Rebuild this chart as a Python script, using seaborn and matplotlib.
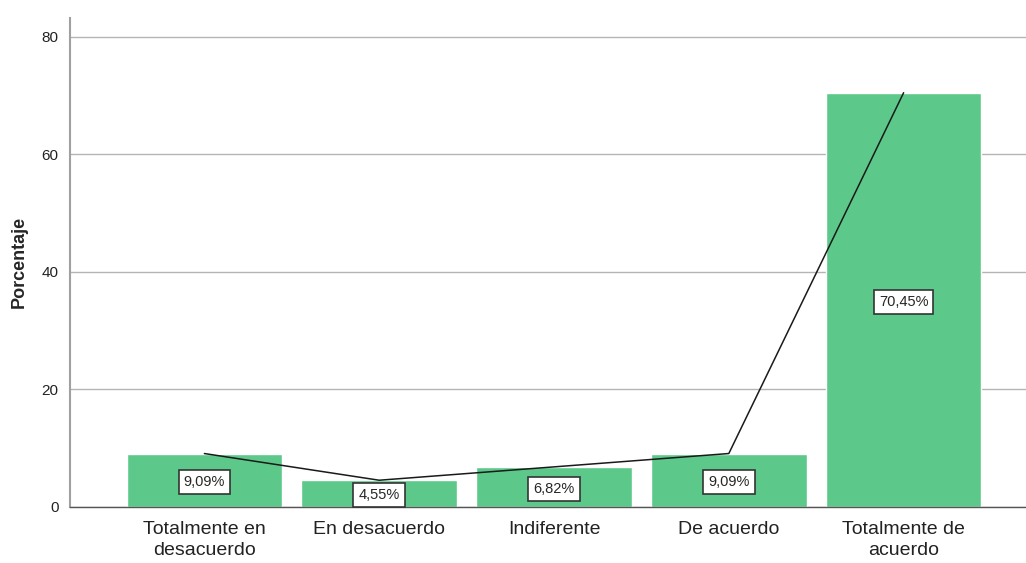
import pandas as pd
import matplotlib.pyplot as plt
import seaborn as sns

# data
categorias = ["Totalmente en\ndesacuerdo", "En desacuerdo", "Indiferente",
              "De acuerdo", "Totalmente de\nacuerdo"]
porcentajes = [9.09, 4.55, 6.82, 9.09, 70.45]
etiquetas = ["9,09%", "4,55%", "6,82%", "9,09%", "70,45%"]

df = pd.DataFrame({"categoria": categorias, "porcentaje": porcentajes})

sns.set_style("white")
plt.rcParams["font.family"] = ["Liberation Sans Narrow", "Liberation Sans", "DejaVu Sans"]

fig = plt.figure(figsize=(10.26, 5.63), dpi=100)
ax = fig.add_axes([0.068, 0.0995, 0.932, 0.869])

sns.barplot(data=df, x="categoria", y="porcentaje", color="#5cc98a",
            saturation=1, width=0.89, ax=ax, zorder=2)
sns.lineplot(x=list(range(len(categorias))), y=porcentajes, color="#1a1a1a",
             linewidth=1.1, ax=ax, zorder=3)

for i, (v, t) in enumerate(zip(porcentajes, etiquetas)):
    ax.text(i, v / 2 - 0.3, t, ha="center", va="center", fontsize=10.5, zorder=4,
            bbox=dict(boxstyle="square,pad=0.35", fc="white", ec="#333333", lw=1.2))

ax.set_ylim(0, 83.2)
ax.set_xlim(-0.77, 4.7)
ax.set_yticks([0, 20, 40, 60, 80])
ax.yaxis.grid(True, color="#b4b4b4", linewidth=1)
ax.set_axisbelow(True)
ax.tick_params(axis="y", labelsize=11, length=0, pad=8, labelcolor="#222222")
ax.tick_params(axis="x", labelsize=14, length=0, pad=10, labelcolor="#222222")
for lab in ax.get_xticklabels():
    lab.set_linespacing(1.3)
ax.set_xlabel("")
ax.set_ylabel("Porcentaje", fontsize=13, fontweight="bold", labelpad=10)

for s in ["top", "right"]:
    ax.spines[s].set_visible(False)
ax.spines["left"].set_color("#a0a0a0")
ax.spines["left"].set_linewidth(1.5)
ax.spines["bottom"].set_color("#555555")
ax.spines["bottom"].set_linewidth(1)

fig.savefig("out.png", dpi=100)
